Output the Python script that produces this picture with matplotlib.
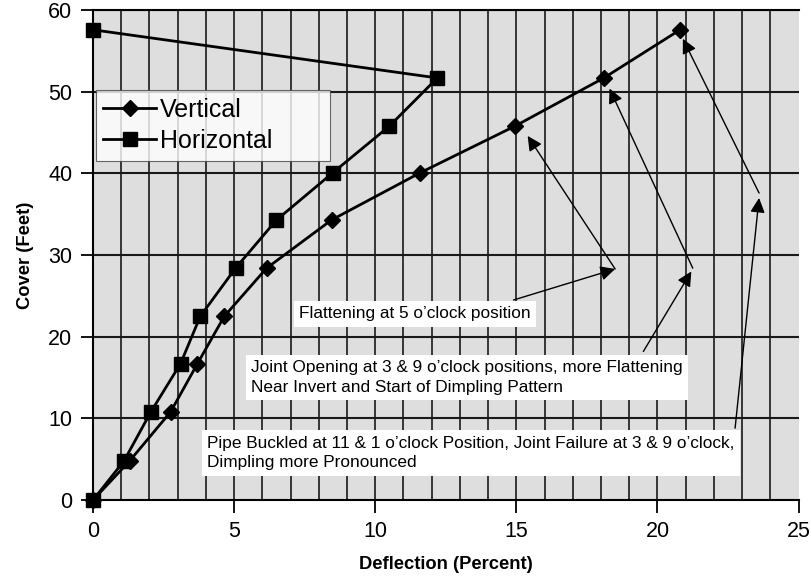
import matplotlib
matplotlib.use('Agg')
import matplotlib.pyplot as plt

plt.rcParams['font.family'] = ['Liberation Sans', 'DejaVu Sans']

# cover depth (ft) for each reading
cover = [0, 4.8, 10.8, 16.7, 22.5, 28.4, 34.3, 40.1, 45.8, 51.7, 57.6]
# deflection (%)
vert_defl = [0, 1.3, 2.75, 3.7, 4.65, 6.15, 8.45, 11.6, 14.95, 18.1, 20.8]
horiz_defl = [0, 1.1, 2.05, 3.1, 3.8, 5.05, 6.5, 8.5, 10.5, 12.2, 0]

# annotation notes: (text, text position, [arrow segments])
notes = [
    ("Flattening at 5 o\u2019clock position", (7.3, 22.8),
     [((14.9, 24.5), (18.5, 28.3)), ((18.5, 28.3), (15.4, 44.6))]),
    ("Joint Opening at 3 & 9 o\u2019clock positions, more Flattening\n"
     "Near Invert and Start of Dimpling Pattern", (5.6, 15.0),
     [((19.5, 18.2), (21.2, 28.0)), ((21.25, 28.4), (18.3, 50.4))]),
    ("Pipe Buckled at 11 & 1 o\u2019clock Position, Joint Failure at 3 & 9 o\u2019clock,\n"
     "Dimpling more Pronounced", (4.05, 5.75),
     [((22.75, 8.8), (23.6, 37.0)), ((23.6, 37.6), (20.9, 56.5))]),
]

fig = plt.figure(figsize=(8.11, 5.79), dpi=100)
ax = fig.add_axes([0.1147, 0.1364, 0.870, 0.846])
ax.set_facecolor('#dedede')

ax.set_xlim(0, 25)
ax.set_ylim(0, 60)
ax.set_xticks([0, 5, 10, 15, 20, 25])
ax.set_yticks([0, 10, 20, 30, 40, 50, 60])

# vertical grid every 1 %, horizontal every 10 ft
for gx in range(1, 25):
    ax.axvline(gx, color='#1a1a1a', lw=1.2, zorder=1)
for gy in range(10, 61, 10):
    ax.axhline(gy, color='#1a1a1a', lw=1.5, zorder=1)

ax.plot(vert_defl, cover, color='black', lw=2, marker='D', markersize=8,
        label='Vertical', zorder=5, clip_on=False)
ax.plot(horiz_defl, cover, color='black', lw=2, marker='s', markersize=9.5,
        label='Horizontal', zorder=5, clip_on=False)

for txt, pos, arrows in notes:
    for start, end in arrows:
        ax.annotate('', xy=end, xytext=start,
                    arrowprops=dict(arrowstyle='-|>', color='black', lw=1,
                                    mutation_scale=22, shrinkA=0, shrinkB=0),
                    zorder=3)
    ax.text(pos[0], pos[1], txt, fontsize=12.4, va='center', ha='left',
            linespacing=1.35, zorder=4,
            bbox=dict(facecolor='white', edgecolor='none', pad=4))

leg = ax.legend(loc='upper left', bbox_to_anchor=(0.004, 0.688, 0.332, 0.149),
                mode='expand', fontsize=18,
                frameon=True, fancybox=False, edgecolor='#444444',
                handlelength=2.1, handletextpad=0.15, borderpad=0.3,
                labelspacing=0.3, borderaxespad=0)
leg.get_frame().set_linewidth(0.8)

ax.spines['right'].set_visible(False)
for side in ['left', 'bottom', 'top']:
    ax.spines[side].set_linewidth(1.5)

ax.tick_params(axis='both', direction='out', length=9, width=1.3,
               labelsize=15.5, colors='black', pad=6)

ax.set_xlabel('Deflection (Percent)', fontsize=13.2, fontweight='bold', labelpad=10)
ax.set_ylabel('Cover (Feet)', fontsize=13.2, fontweight='bold', labelpad=10)

fig.savefig('out.png', dpi=100)
